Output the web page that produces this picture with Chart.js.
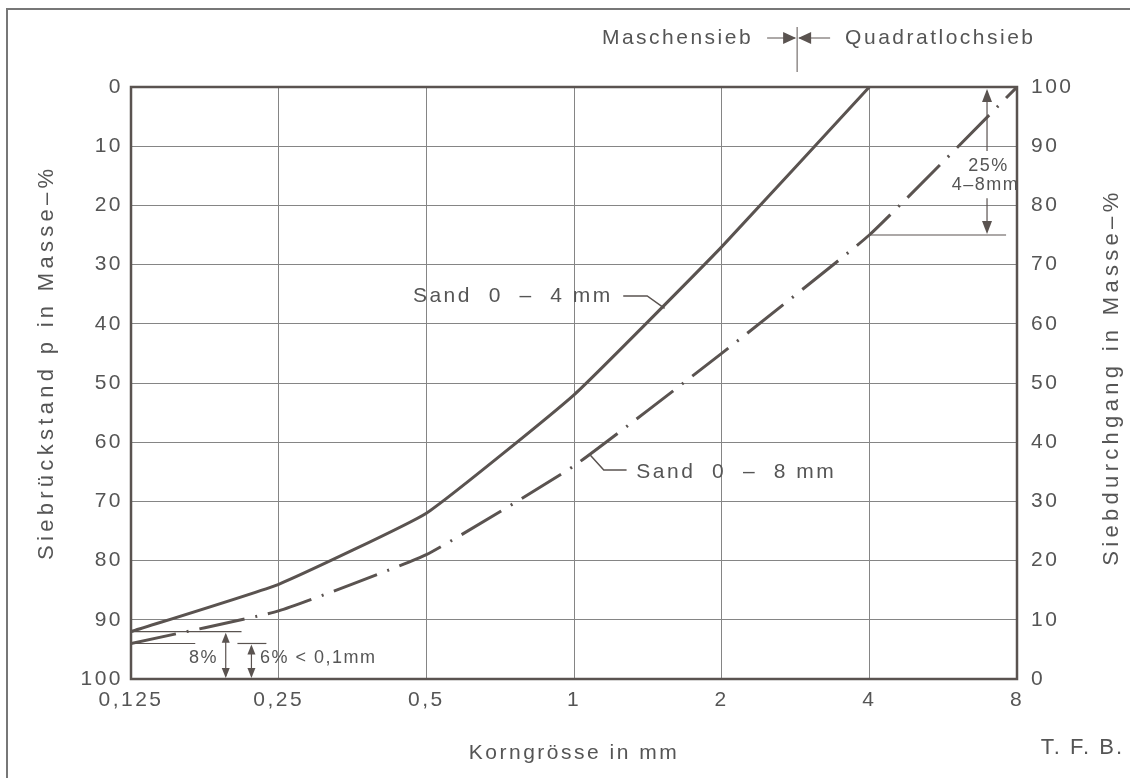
<!DOCTYPE html>
<html>
<head>
<meta charset="utf-8">
<script src="https://cdn.jsdelivr.net/npm/chart.js@4.4.1/dist/chart.umd.min.js"></script>
<style>
html, body { margin: 0; padding: 0; background: #fff; }
#wrap { width: 1130px; height: 778px; position: relative; }
</style>
</head>
<body>
<div id="wrap"><canvas id="myChart"></canvas></div>
<script>
// Korngrösse in mm (log axis)
var sizes = [0.125, 0.25, 0.5, 1, 2, 4, 8];
// Siebrückstand in Masse-% (left axis, 0 at top)
var sand04 = [92, 84, 72, 52, 27, 0];
var sand08 = [94, 88.5, 79, 64, 45, 25, 0];
var residueTicks = [0, 10, 20, 30, 40, 50, 60, 70, 80, 90, 100];
var passingTicks = [0, 10, 20, 30, 40, 50, 60, 70, 80, 90, 100];

var ink = '#5a5350';
var txt = '#555';
var gridCol = '#858585';
var fam = '"Liberation Sans", Arial, sans-serif';
var spacing = '2.5px';

function pts(vals) {
    return vals.map(function (v, i) { return { x: sizes[i], y: v }; });
}

function head(ctx, x, y, dir, len, half) {
    // tip at (x,y)
    ctx.beginPath();
    ctx.moveTo(x, y);
    if (dir === 'up') { ctx.lineTo(x - half, y + len); ctx.lineTo(x + half, y + len); }
    if (dir === 'down') { ctx.lineTo(x - half, y - len); ctx.lineTo(x + half, y - len); }
    if (dir === 'left') { ctx.lineTo(x + len, y - half); ctx.lineTo(x + len, y + half); }
    if (dir === 'right') { ctx.lineTo(x - len, y - half); ctx.lineTo(x - len, y + half); }
    ctx.closePath();
    ctx.fill();
}

function seg(ctx, x1, y1, x2, y2) {
    ctx.beginPath();
    ctx.moveTo(x1, y1);
    ctx.lineTo(x2, y2);
    ctx.stroke();
}

function vtitle(ctx, text, x, y) {
    ctx.save();
    ctx.translate(x, y);
    ctx.rotate(-Math.PI / 2);
    ctx.fillText(text, 0, 0);
    ctx.restore();
}

var spacingPlugin = {
    id: 'spacing',
    beforeLayout: function (chart) { chart.ctx.letterSpacing = spacing; },
    beforeDraw: function (chart) { chart.ctx.letterSpacing = spacing; }
};

var extras = {
    id: 'extras',
    afterDraw: function (chart) {
        var ctx = chart.ctx;
        var a = chart.chartArea;
        var xs = chart.scales.x, ys = chart.scales.y;
        var px = function (v) { return xs.getPixelForValue(v); };
        var py = function (v) { return ys.getPixelForValue(v); };
        ctx.save();
        ctx.letterSpacing = spacing;

        // outer frame
        ctx.lineWidth = 2;
        ctx.strokeStyle = '#777';
        ctx.strokeRect(7, 9, 1140, 800);

        // plot frame
        ctx.strokeStyle = ink;
        ctx.lineWidth = 2.5;
        ctx.strokeRect(a.left, a.top, a.right - a.left, a.bottom - a.top);

        // axis titles (both read bottom to top)
        ctx.fillStyle = txt;
        ctx.font = '22px ' + fam;
        ctx.textAlign = 'center';
        ctx.textBaseline = 'middle';
        ctx.letterSpacing = '4.3px';
        vtitle(ctx, 'Siebrückstand p in Masse\u2013%', 47, py(46.5));
        vtitle(ctx, 'Siebdurchgang in Masse\u2013%', 1112, py(49));
        ctx.letterSpacing = spacing;

        // curve labels
        ctx.font = '21px ' + fam;
        ctx.textAlign = 'right';
        ctx.fillText('Sand  0  \u2013  4 mm', px(1.2), py(35.3));
        ctx.textAlign = 'left';
        ctx.fillText('Sand  0  \u2013  8 mm', px(1.34), py(65));
        ctx.lineWidth = 1.5;
        ctx.strokeStyle = ink;
        ctx.beginPath();
        ctx.moveTo(px(1.26), py(35.3));
        ctx.lineTo(px(1.41), py(35.3));
        ctx.lineTo(px(1.53), py(37.4));
        ctx.stroke();
        ctx.beginPath();
        ctx.moveTo(px(1.28), py(64.7));
        ctx.lineTo(px(1.15), py(64.7));
        ctx.lineTo(px(1.08), py(62.2));
        ctx.stroke();

        // Maschensieb / Quadratlochsieb divider
        var dx = px(2.85);
        var ty = a.top - 49;
        ctx.lineWidth = 1;
        ctx.fillStyle = ink;
        seg(ctx, dx, a.top - 60, dx, a.top - 15);
        seg(ctx, dx - 30, ty, dx - 2, ty);
        seg(ctx, dx + 2, ty, dx + 33, ty);
        head(ctx, dx - 1, ty, 'right', 13, 6);
        head(ctx, dx + 1, ty, 'left', 13, 6);
        ctx.font = '21px ' + fam;
        ctx.textAlign = 'right';
        ctx.fillStyle = txt;
        ctx.fillText('Maschensieb', dx - 44, ty);
        ctx.textAlign = 'left';
        ctx.fillText('Quadratlochsieb', dx + 48, ty);

        // 25 % 4-8 mm
        var ax = px(6.95);
        ctx.fillStyle = ink;
        ctx.lineWidth = 1.2;
        seg(ctx, ax, py(0) + 4, ax, py(10.8));
        seg(ctx, ax, py(18.8), ax, py(25) - 4);
        head(ctx, ax, py(0) + 2, 'up', 13, 5);
        head(ctx, ax, py(25) - 1, 'down', 13, 5);
        seg(ctx, px(4), py(25), px(7.6), py(25));
        ctx.fillStyle = txt;
        ctx.font = '18px ' + fam;
        ctx.letterSpacing = '1.5px';
        ctx.textAlign = 'center';
        ctx.fillText('25%', px(7.0), py(13.4));
        ctx.fillText('4\u20138mm', px(6.9), py(16.6));

        // 8 % and 6 % < 0,1 mm
        ctx.lineWidth = 1.2;
        ctx.strokeStyle = ink;
        seg(ctx, a.left, py(92), px(0.21), py(92));
        seg(ctx, a.left, py(94), px(0.169), py(94));
        seg(ctx, px(0.206), py(94), px(0.236), py(94));
        var b1 = px(0.195), b2 = px(0.22);
        ctx.fillStyle = ink;
        seg(ctx, b1, py(92) + 3, b1, py(100) - 3);
        seg(ctx, b2, py(94) + 3, b2, py(100) - 3);
        head(ctx, b1, py(92) + 1, 'up', 10, 4);
        head(ctx, b1, py(100) - 1, 'down', 10, 4);
        head(ctx, b2, py(94) + 1, 'up', 10, 4);
        head(ctx, b2, py(100) - 1, 'down', 10, 4);
        ctx.fillStyle = txt;
        ctx.textAlign = 'right';
        ctx.fillText('8%', px(0.188), py(96.4));
        ctx.textAlign = 'left';
        ctx.fillText('6% < 0,1mm', px(0.229), py(96.4));

        // T. F. B.
        ctx.font = '22px ' + fam;
        ctx.letterSpacing = '2px';
        ctx.textAlign = 'right';
        ctx.fillText('T. F. B.', 1124, 748);

        ctx.restore();
    }
};

var ctx = document.getElementById('myChart').getContext('2d');
var myChart = new Chart(ctx, {
    type: 'line',
    data: {
        datasets: [{
            label: 'Sand 0 - 4 mm',
            data: pts(sand04),
            borderColor: ink,
            borderWidth: 3,
            pointRadius: 0,
            fill: false,
            tension: 0.12,
            yAxisID: 'y'
        }, {
            label: 'Sand 0 - 8 mm',
            data: pts(sand08),
            borderColor: ink,
            borderWidth: 3,
            borderDash: [46, 11, 2, 11],
            pointRadius: 0,
            fill: false,
            tension: 0.12,
            yAxisID: 'y'
        }]
    },
    options: {
        responsive: true,
        maintainAspectRatio: false,
        animation: false,
        layout: { padding: { top: 87, left: 0, right: 0, bottom: 0 } },
        plugins: {
            legend: { display: false },
            tooltip: { enabled: false }
        },
        scales: {
            x: {
                type: 'logarithmic',
                min: 0.125,
                max: 8,
                afterBuildTicks: function (s) {
                    s.ticks = sizes.map(function (v) { return { value: v }; });
                },
                afterFit: function (s) { s.height = 99; },
                ticks: {
                    autoSkip: false,
                    maxRotation: 0,
                    padding: 9,
                    color: txt,
                    font: { family: fam, size: 21 },
                    callback: function (v) { return String(v).replace('.', ','); }
                },
                grid: { color: gridCol, lineWidth: 1, drawTicks: false },
                border: { display: false },
                title: {
                    display: true,
                    text: 'Korngrösse in mm',
                    color: txt,
                    font: { family: fam, size: 21 },
                    padding: { bottom: 12 }
                }
            },
            y: {
                position: 'left',
                min: 0,
                max: 100,
                reverse: true,
                afterBuildTicks: function (s) {
                    s.ticks = residueTicks.map(function (v) { return { value: v }; });
                },
                afterFit: function (s) { s.width = 131; },
                ticks: {
                    padding: 8,
                    color: txt,
                    font: { family: fam, size: 21 }
                },
                grid: { color: gridCol, lineWidth: 1, drawTicks: false },
                border: { display: false }
            },
            y1: {
                position: 'right',
                min: 0,
                max: 100,
                afterBuildTicks: function (s) {
                    s.ticks = passingTicks.map(function (v) { return { value: v }; });
                },
                afterFit: function (s) { s.width = 113; },
                ticks: {
                    padding: 14,
                    color: txt,
                    font: { family: fam, size: 21 }
                },
                grid: { drawOnChartArea: false, drawTicks: false },
                border: { display: false }
            }
        }
    },
    plugins: [spacingPlugin, extras]
});
</script>
</body>
</html>
